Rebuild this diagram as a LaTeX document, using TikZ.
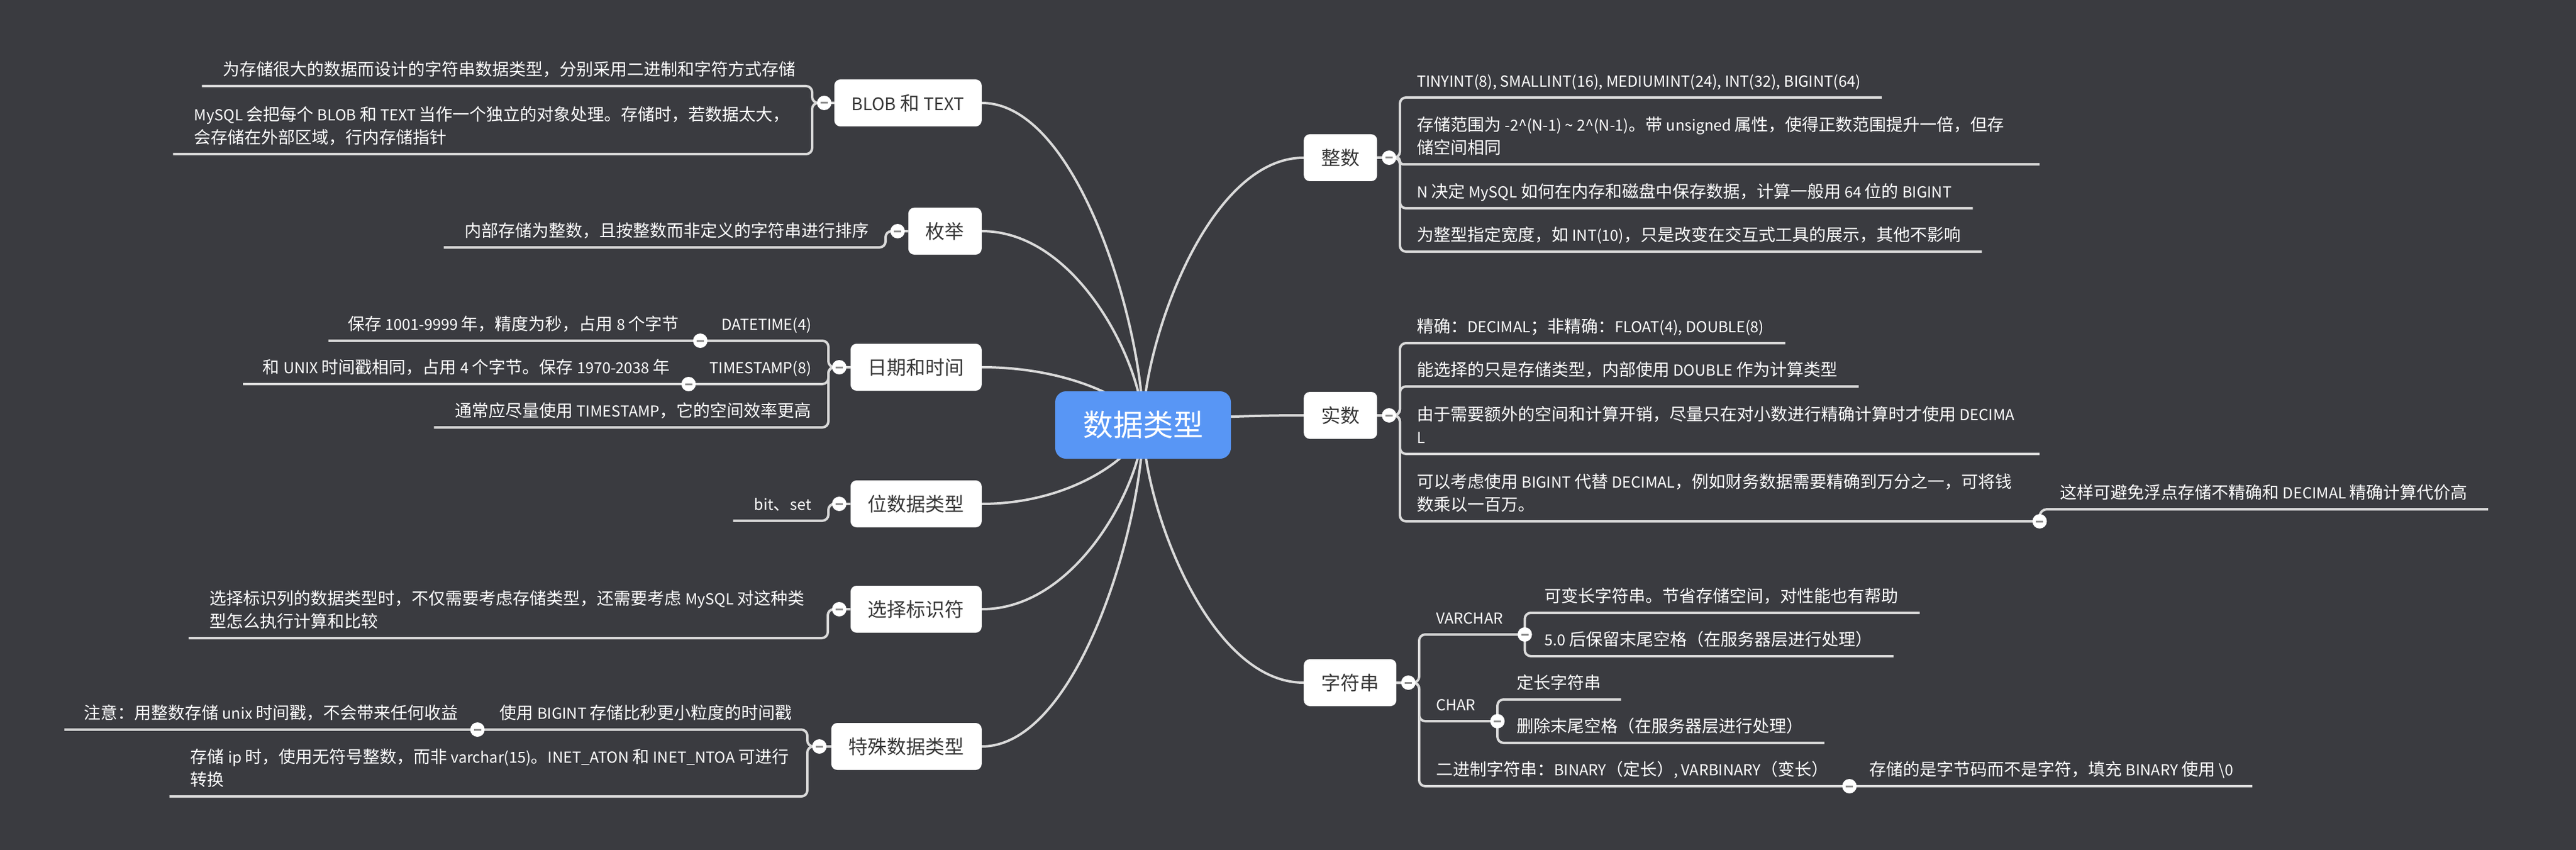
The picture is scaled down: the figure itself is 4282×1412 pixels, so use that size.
\documentclass[tikz,border=0pt]{standalone}
\usepackage{fontspec}
\setmainfont{Noto Sans CJK SC}[Scale=0.9]
\newfontfamily\cjkf{Noto Sans CJK SC}
\newXeTeXintercharclass\cjkcls
\makeatletter
\def\setcjkrange#1#2{\count@=#1\relax
  \loop\XeTeXcharclass\count@=\cjkcls\relax
  \ifnum\count@<#2\relax\advance\count@\@ne\repeat}
\makeatother
\setcjkrange{"4E00}{"9FFF}
\setcjkrange{"3000}{"303F}
\setcjkrange{"FF00}{"FFEF}
\XeTeXinterchartokenstate=1
\XeTeXinterchartoks 0 \cjkcls = {\cjkf}
\XeTeXinterchartoks 4095 \cjkcls = {\cjkf}
\XeTeXinterchartoks \cjkcls 0 = {\rmfamily}
\XeTeXinterchartoks 4095 0 = {\rmfamily}
\usetikzlibrary{calc}
\definecolor{bgc}{RGB}{58,59,64}
\definecolor{rootblue}{RGB}{88,150,245}
\definecolor{linec}{RGB}{218,218,218}
\definecolor{ttext}{RGB}{55,55,55}
\definecolor{minusc}{RGB}{140,140,140}
\pgfdeclarelayer{bg}
\pgfsetlayers{bg,main}
\newcommand\twol[2]{\makebox[1000pt][l]{\begin{tabular}[b]{@{}l@{}}#1\\#2\end{tabular}}}
\newcommand\branchto[1]{\draw[branch] (root.center) .. controls ($(root.center)!0.3!(root.center |- #1)$) and ($(#1)!0.6!(#1 -| root.center)$) .. (#1);}
\tikzset{
  branch/.style={draw=linec, line width=4pt},
  conn/.style={draw=linec, line width=4pt, rounded corners=10pt},
  topic/.style={rectangle, rounded corners=10pt, fill=white, text=ttext, font=\fontsize{32}{38}\selectfont, minimum height=78pt, inner xsep=29pt, inner ysep=0pt},
  sub/.style={text=white, font=\fontsize{28}{38}\selectfont, inner sep=0pt},
  tog/.style={circle, fill=white, minimum size=24pt, inner sep=0pt,
    path picture={\fill[minusc] ([xshift=-6pt,yshift=-1.5pt]path picture bounding box.center) rectangle ++(12pt,3pt);}},
  root/.style={rectangle, rounded corners=18pt, fill=rootblue, text=white, font=\fontsize{50}{60}\selectfont, minimum width=292pt, minimum height=112pt, inner sep=0pt}
}
\begin{document}
\begin{tikzpicture}[x=1pt,y=-1pt]
\useasboundingbox (0,0) rectangle (4282,1412);
\begin{pgfonlayer}{bg}
\fill[bgc] (0,0) rectangle (4282,1412);
\end{pgfonlayer}

% root
\node[root] (root) at (1900,706) {数据类型};

% main topics
\node[topic, anchor=east] (blob) at (1632,171) {BLOB 和 TEXT};
\node[topic, anchor=east] (enum) at (1632,384) {枚举};
\node[topic, anchor=east] (date) at (1632,610) {日期和时间};
\node[topic, anchor=east] (bit) at (1632,837) {位数据类型};
\node[topic, anchor=east] (ident) at (1632,1012) {选择标识符};
\node[topic, anchor=east] (spec) at (1632,1240) {特殊数据类型};
\node[topic, anchor=west] (int) at (2167,262) {整数};
\node[topic, anchor=west] (real) at (2167,690) {实数};
\node[topic, anchor=west] (str) at (2167,1134) {字符串};

% toggles of topics
\node[tog] (tblob) at (1370,171) {};
\node[tog] (tenum) at (1492,384) {};
\node[tog] (tdate) at (1395,610) {};
\node[tog] (tbit) at (1395,837) {};
\node[tog] (tident) at (1395,1012) {};
\node[tog] (tspec) at (1362,1240) {};
\node[tog] (tint) at (2309,262) {};
\node[tog] (treal) at (2309,690) {};
\node[tog] (tstr) at (2341,1134) {};

% BLOB
\node[sub, anchor=base east] (b1) at (1323,125.5) {为存储很大的数据而设计的字符串数据类型，分别采用二进制和字符方式存储};
\node[sub, anchor=base east] (b2) at (1323,238.5) {\twol{MySQL 会把每个 BLOB 和 TEXT 当作一个独立的对象处理。存储时，若数据太大，}{会存储在外部区域，行内存储指针}};
% enum
\node[sub, anchor=base east] (e1) at (1445,393.5) {内部存储为整数，且按整数而非定义的字符串进行排序};
% date
\node[sub, anchor=base east] (d1) at (1349,548.5) {DATETIME(4)};
\node[tog] (td1) at ($(d1.base west)+(-35,17.5)$) {};
\node[sub, anchor=base east] (d1a) at ($(td1.center)+(-35,-17.5)$) {保存 1001-9999 年，精度为秒，占用 8 个字节};
\node[sub, anchor=base east] (d2) at (1349,620.5) {TIMESTAMP(8)};
\node[tog] (td2) at ($(d2.base west)+(-35,17.5)$) {};
\node[sub, anchor=base east] (d2a) at ($(td2.center)+(-31,-17.5)$) {和 UNIX 时间戳相同，占用 4 个字节。保存 1970-2038 年};
\node[sub, anchor=base east] (d3) at (1349,692.5) {通常应尽量使用 TIMESTAMP，它的空间效率更高};
% bit
\node[sub, anchor=base east] (bt1) at (1349,847.5) {bit、set};
% ident
\node[sub, anchor=base east] (i1) at (1349,1042.5) {\twol{选择标识列的数据类型时，不仅需要考虑存储类型，还需要考虑 MySQL 对这种类}{型怎么执行计算和比较}};
% special
\node[sub, anchor=base east] (s1) at (1317,1194.5) {使用 BIGINT 存储比秒更小粒度的时间戳};
\node[tog] (ts1) at ($(s1.base west)+(-37,17.5)$) {};
\node[sub, anchor=base east] (s1a) at ($(ts1.center)+(-32,-17.5)$) {注意：用整数存储 unix 时间戳，不会带来任何收益};
\node[sub, anchor=base east] (s2) at (1317,1305.5) {\twol{存储 ip 时，使用无符号整数，而非 varchar(15)。INET\_ATON 和 INET\_NTOA 可进行}{转换}};

% int
\node[sub, anchor=base west] (n1) at (2355,144.5) {TINYINT(8), SMALLINT(16), MEDIUMINT(24), INT(32), BIGINT(64)};
\node[sub, anchor=base west] (n2) at (2355,255.5) {\twol{存储范围为 -2\textasciicircum(N-1) \textasciitilde{} 2\textasciicircum(N-1)。带 unsigned 属性，使得正数范围提升一倍，但存}{储空间相同}};
\node[sub, anchor=base west] (n3) at (2355,328.5) {N 决定 MySQL 如何在内存和磁盘中保存数据，计算一般用 64 位的 BIGINT};
\node[sub, anchor=base west] (n4) at (2355,400.5) {为整型指定宽度，如 INT(10)，只是改变在交互式工具的展示，其他不影响};
% real
\node[sub, anchor=base west] (r1) at (2355,552.5) {精确：DECIMAL；非精确：FLOAT(4), DOUBLE(8)};
\node[sub, anchor=base west] (r2) at (2355,624.5) {能选择的只是存储类型，内部使用 DOUBLE 作为计算类型};
\node[sub, anchor=base west] (r3) at (2355,736.5) {\twol{由于需要额外的空间和计算开销，尽量只在对小数进行精确计算时才使用 DECIMA}{L}};
\node[sub, anchor=base west] (r4) at (2355,848.5) {\twol{可以考虑使用 BIGINT 代替 DECIMAL，例如财务数据需要精确到万分之一，可将钱}{数乘以一百万。}};
\node[tog] (tr4) at ($(r4.base east)+(35,17.5)$) {};
\node[sub, anchor=base west] (r4a) at ($(tr4.center)+(34,-37.5)$) {这样可避免浮点存储不精确和 DECIMAL 精确计算代价高};
% string
\node[sub, anchor=base west] (v) at (2387,1036.5) {VARCHAR};
\node[tog] (tv) at ($(v.base east)+(36,17.5)$) {};
\node[sub, anchor=base west] (va) at ($(tv.center)+(33,-53.5)$) {可变长字符串。节省存储空间，对性能也有帮助};
\node[sub, anchor=base west] (vb) at ($(tv.center)+(33,18.5)$) {5.0 后保留末尾空格（在服务器层进行处理）};
\node[sub, anchor=base west] (c) at (2387,1180.5) {CHAR};
\node[tog] (tc) at ($(c.base east)+(36,17.5)$) {};
\node[sub, anchor=base west] (ca) at ($(tc.center)+(32,-53.5)$) {定长字符串};
\node[sub, anchor=base west] (cb) at ($(tc.center)+(32,18.5)$) {删除末尾空格（在服务器层进行处理）};
\node[sub, anchor=base west] (bn) at (2387,1288.5) {二进制字符串：BINARY（定长）, VARBINARY（变长）};
\node[tog] (tb) at ($(bn.base east)+(35,17.5)$) {};
\node[sub, anchor=base west] (bna) at ($(tb.center)+(33,-17.5)$) {存储的是字节码而不是字符，填充 BINARY 使用 \textbackslash0};

\begin{pgfonlayer}{bg}
% branches from root
\branchto{blob.east}
\branchto{enum.east}
\branchto{date.east}
\branchto{bit.east}
\branchto{ident.east}
\branchto{spec.east}
\branchto{int.west}
\branchto{real.west}
\branchto{str.west}
% BLOB
\draw[conn] (blob.west) -- (1350,171) -- (1350,143) -- ($(b1.base west)+(-35,17.5)$);
\draw[conn] (blob.west) -- (1350,171) -- (1350,256) -- ($(b2.base west)+(-35,17.5)$);
% enum
\draw[conn] (enum.west) -- (1472,384) -- (1472,411) -- ($(e1.base west)+(-35,17.5)$);
% date
\draw[conn] (date.west) -- (1377,610) -- (1377,566) -- (td1.center);
\draw[conn] (td1.center) -- ($(d1a.base west)+(-32,17.5)$);
\draw[conn] (date.west) -- (1377,610) -- (1377,638) -- (td2.center);
\draw[conn] (td2.center) -- ($(d2a.base west)+(-33,17.5)$);
\draw[conn] (date.west) -- (1377,610) -- (1377,710) -- ($(d3.base west)+(-35,17.5)$);
% bit
\draw[conn] (bit.west) -- (1377,837) -- (1377,865) -- ($(bt1.base west)+(-35,17.5)$);
% ident
\draw[conn] (ident.west) -- (1376,1012) -- (1376,1060) -- ($(i1.base west)+(-35,17.5)$);
% special
\draw[conn] (spec.west) -- (1342,1240) -- (1342,1212) -- (ts1.center);
\draw[conn] (ts1.center) -- ($(s1a.base west)+(-32,17.5)$);
\draw[conn] (spec.west) -- (1342,1240) -- (1342,1323) -- ($(s2.base west)+(-35,17.5)$);
% int
\draw[conn] (int.east) -- (2327,262) -- (2327,162) -- ($(n1.base east)+(35,17.5)$);
\draw[conn, rounded corners=5pt] (int.east) -- (2327,262) -- (2327,273) -- ($(n2.base east)+(35,17.5)$);
\draw[conn] (int.east) -- (2327,262) -- (2327,346) -- ($(n3.base east)+(35,17.5)$);
\draw[conn] (int.east) -- (2327,262) -- (2327,418) -- ($(n4.base east)+(35,17.5)$);
% real
\draw[conn] (real.east) -- (2327,690) -- (2327,570) -- ($(r1.base east)+(35,17.5)$);
\draw[conn] (real.east) -- (2327,690) -- (2327,642) -- ($(r2.base east)+(35,17.5)$);
\draw[conn] (real.east) -- (2327,690) -- (2327,754) -- ($(r3.base east)+(35,17.5)$);
\draw[conn] (real.east) -- (2327,690) -- (2327,866) -- (tr4.center);
\draw[conn, rounded corners=12pt] (tr4.center) -- (tr4.center |- 0,846) -- ($(r4a.base east)+(34,17.5)$);
% string
\draw[conn] (str.east) -- (2359,1134) -- (2359,1054) -- (tv.center);
\draw[conn] (tv.center) -- (tv.center |- 0,1018) -- ($(va.base east)+(35,17.5)$);
\draw[conn] (tv.center) -- (tv.center |- 0,1090) -- ($(vb.base east)+(35,17.5)$);
\draw[conn] (str.east) -- (2359,1134) -- (2359,1198) -- (tc.center);
\draw[conn] (tc.center) -- (tc.center |- 0,1162) -- ($(ca.base east)+(33,17.5)$);
\draw[conn] (tc.center) -- (tc.center |- 0,1234) -- ($(cb.base east)+(35,17.5)$);
\draw[conn] (str.east) -- (2359,1134) -- (2359,1306) -- (tb.center);
\draw[conn] (tb.center) -- ($(bna.base east)+(31,17.5)$);
\end{pgfonlayer}
\end{tikzpicture}
\end{document}
